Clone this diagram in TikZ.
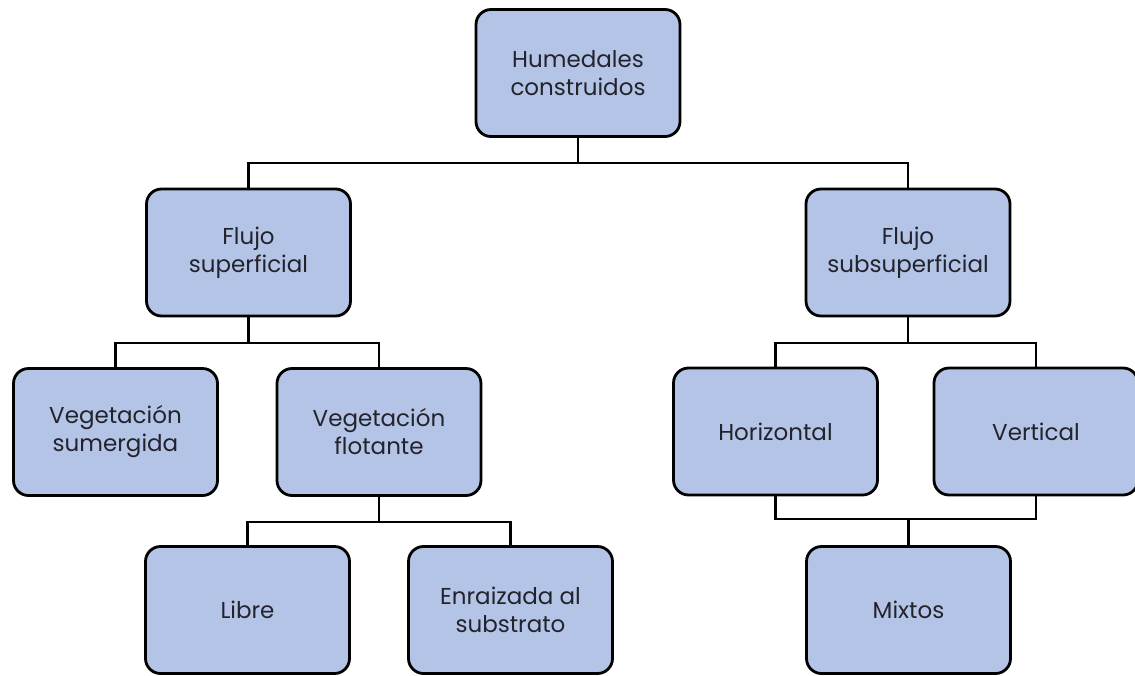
\documentclass[tikz,border=0pt]{standalone}
\usepackage{fontspec}
\setmainfont{Poppins}
\definecolor{boxfill}{RGB}{180,196,230}
\definecolor{txt}{RGB}{35,35,45}
\begin{document}
\begin{tikzpicture}[x=1pt,y=-1pt,
  box/.style={draw=black, line width=2.8pt, fill=boxfill, rounded corners=15pt,
    minimum width=204pt, minimum height=127pt, align=center, text=txt,
    font=\fontsize{23}{28}\selectfont, inner sep=0pt},
  conn/.style={line width=2.6pt, black}]
\useasboundingbox (0,0) rectangle (1135,675);
\node[box] (top) at (578,73) {Humedales\\construidos};
\node[box] (fs) at (248.5,252.5) {Flujo\\superficial};
\node[box] (fss) at (908,252.5) {Flujo\\subsuperficial};
\node[box] (sum) at (115.5,432) {Vegetación\\sumergida};
\node[box] (flo) at (379,432) {Vegetación\\flotante};
\node[box] (hor) at (775.5,431.5) {Horizontal};
\node[box] (ver) at (1036,431.5) {Vertical};
\node[box] (lib) at (247.5,610) {Libre};
\node[box] (enr) at (510.5,610) {Enraizada al\\substrato};
\node[box] (mix) at (908.5,610) {Mixtos};
\coordinate (j1) at (578,163);
\coordinate (j2) at (248.5,343);
\coordinate (j3) at (908,343);
\coordinate (j4) at (379,522);
\coordinate (j5) at (908.5,519);
\draw[conn] (top.south) -- (j1);
\draw[conn] (fs.north) |- (j1) -| (fss.north);
\draw[conn] (fs.south) -- (j2);
\draw[conn] (sum.north) |- (j2) -| (flo.north);
\draw[conn] (fss.south) -- (j3);
\draw[conn] (hor.north) |- (j3) -| (ver.north);
\draw[conn] (flo.south) -- (j4);
\draw[conn] (lib.north) |- (j4) -| (enr.north);
\draw[conn] (hor.south) |- (j5) -| (ver.south);
\draw[conn] (j5) -- (mix.north);
\end{tikzpicture}
\end{document}
